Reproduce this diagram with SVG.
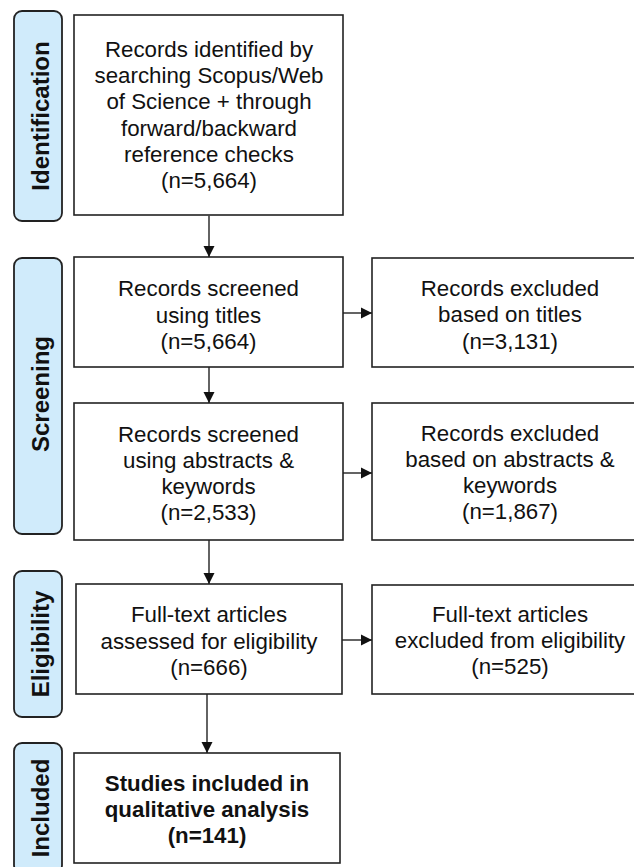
<svg xmlns="http://www.w3.org/2000/svg" width="634" height="867" viewBox="0 0 634 867">
<defs>
<style>
.box{fill:#fff;stroke:#222;stroke-width:1.6}
.lab{fill:#d0ebfb;stroke:#222;stroke-width:1.8}
.t{font-family:"Liberation Sans",Arial,sans-serif;font-size:22.3px;fill:#111;text-anchor:middle}
.b{font-weight:bold}
.lt{font-family:"Liberation Sans",Arial,sans-serif;font-size:24px;font-weight:bold;fill:#111;text-anchor:middle}
.c{stroke:#222;stroke-width:1.4;fill:none;marker-end:url(#ah)}
</style>
<marker id="ah" viewBox="0 0 10 10" refX="10" refY="5" markerUnits="userSpaceOnUse" markerWidth="11" markerHeight="12" orient="auto">
<path d="M0,0 L10,5 L0,10 Z" fill="#111"/>
</marker>
</defs>
<rect width="634" height="867" fill="#fff"/>

<g id="label-identification">
<rect class="lab" x="14" y="11" width="48" height="210" rx="8"/>
<text class="lt" transform="translate(48.5,116) rotate(-90)">Identification</text>
</g>
<g id="label-screening">
<rect class="lab" x="14" y="258" width="48" height="276" rx="8"/>
<text class="lt" transform="translate(48.5,394) rotate(-90)">Screening</text>
</g>
<g id="label-eligibility">
<rect class="lab" x="14" y="571" width="48" height="146" rx="8"/>
<text class="lt" transform="translate(48.5,644) rotate(-90)">Eligibility</text>
</g>
<g id="label-included">
<rect class="lab" x="14" y="743" width="48" height="130" rx="8"/>
<text class="lt" transform="translate(48.5,808) rotate(-90)">Included</text>
</g>

<g id="identified">
<rect class="box" x="74" y="15" width="269" height="200"/>
<text class="t" x="209" y="57">Records identified by</text>
<text class="t" x="209" y="83.2">searching Scopus/Web</text>
<text class="t" x="209" y="109.4">of Science + through</text>
<text class="t" x="209" y="135.6">forward/backward</text>
<text class="t" x="209" y="161.8">reference checks</text>
<text class="t" x="209" y="188">(n=5,664)</text>
</g>

<g id="screened-titles">
<rect class="box" x="74" y="257" width="269" height="110"/>
<text class="t" x="208.5" y="296">Records screened</text>
<text class="t" x="208.5" y="322.5">using titles</text>
<text class="t" x="208.5" y="349">(n=5,664)</text>
</g>

<g id="excluded-titles">
<rect class="box" x="372" y="258" width="276" height="109"/>
<text class="t" x="510" y="295.5">Records excluded</text>
<text class="t" x="510" y="322">based on titles</text>
<text class="t" x="510" y="348.5">(n=3,131)</text>
</g>

<g id="screened-abstracts">
<rect class="box" x="74" y="403" width="269" height="137"/>
<text class="t" x="208.5" y="442">Records screened</text>
<text class="t" x="208.5" y="468">using abstracts &amp;</text>
<text class="t" x="208.5" y="494">keywords</text>
<text class="t" x="208.5" y="520">(n=2,533)</text>
</g>

<g id="excluded-abstracts">
<rect class="box" x="372" y="403" width="276" height="137"/>
<text class="t" x="510" y="441">Records excluded</text>
<text class="t" x="510" y="467">based on abstracts &amp;</text>
<text class="t" x="510" y="493">keywords</text>
<text class="t" x="510" y="519">(n=1,867)</text>
</g>

<g id="fulltext-assessed">
<rect class="box" x="76" y="584" width="266" height="110"/>
<text class="t" x="209" y="622">Full-text articles</text>
<text class="t" x="209" y="648.5">assessed for eligibility</text>
<text class="t" x="209" y="675">(n=666)</text>
</g>

<g id="fulltext-excluded">
<rect class="box" x="372" y="585" width="276" height="109"/>
<text class="t" x="510" y="622">Full-text articles</text>
<text class="t" x="510" y="648">excluded from eligibility</text>
<text class="t" x="510" y="674">(n=525)</text>
</g>

<g id="included">
<rect class="box" x="74" y="753" width="266" height="110"/>
<text class="t b" x="207" y="791">Studies included in</text>
<text class="t b" x="207" y="817">qualitative analysis</text>
<text class="t b" x="207" y="843">(n=141)</text>
</g>

<g id="connectors">
<line class="c" x1="209" y1="215.8" x2="209" y2="257"/>
<line class="c" x1="209" y1="367" x2="209" y2="403"/>
<line class="c" x1="209" y1="540" x2="209" y2="584"/>
<line class="c" x1="207" y1="694" x2="207" y2="753"/>
<line class="c" x1="343" y1="313" x2="372" y2="313"/>
<line class="c" x1="343" y1="473" x2="372" y2="473"/>
<line class="c" x1="342" y1="640" x2="372" y2="640"/>
</g>
</svg>
